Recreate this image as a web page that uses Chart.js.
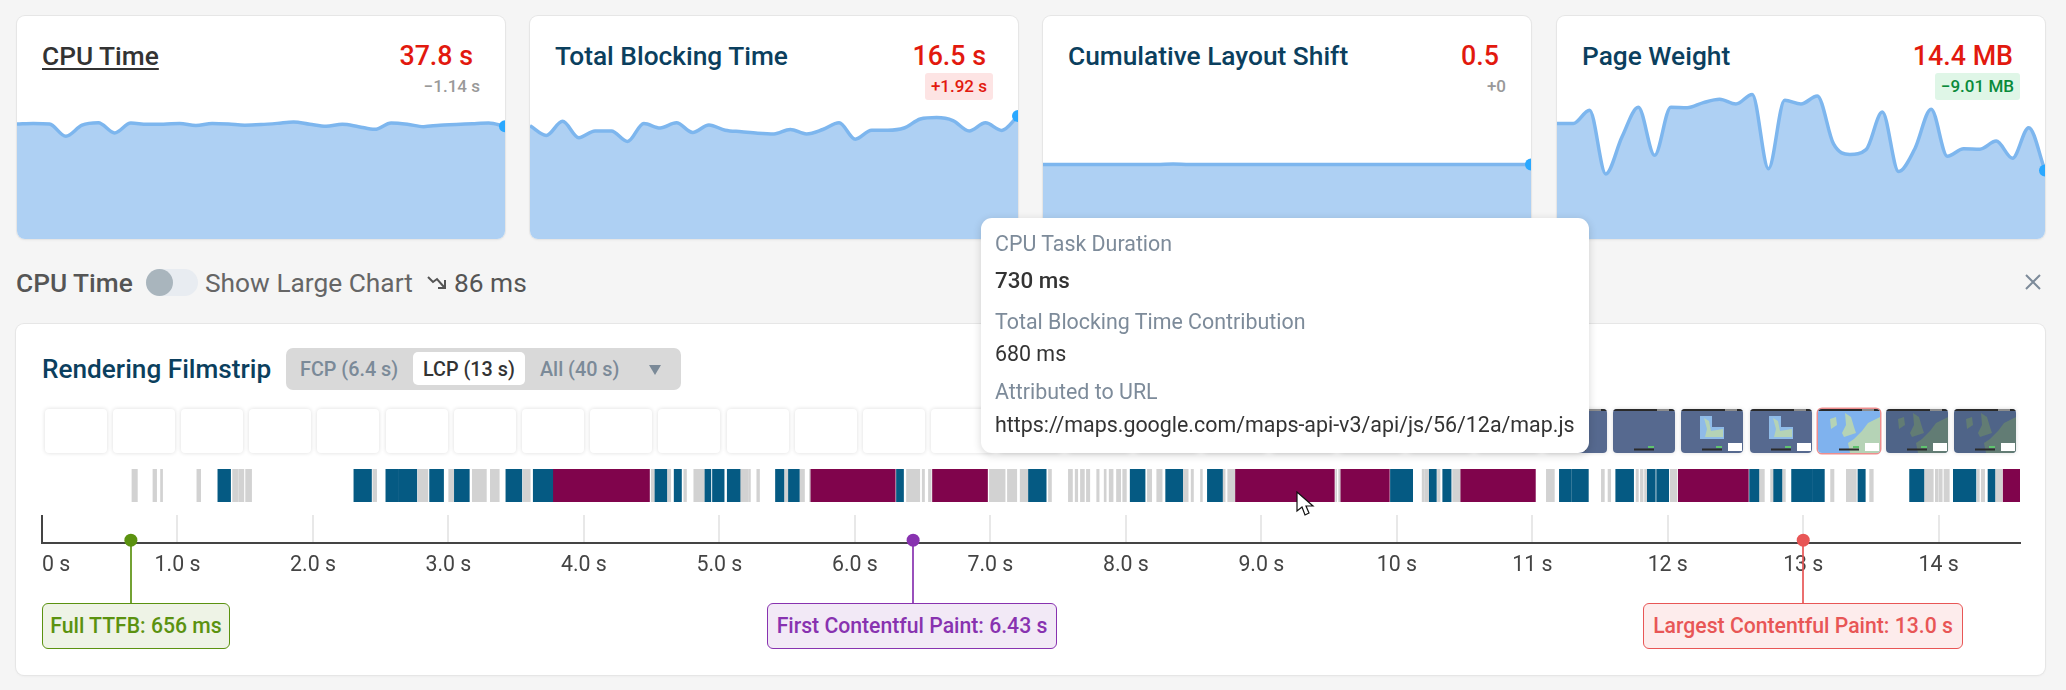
<!DOCTYPE html>
<html>
<head>
<meta charset="utf-8">
<title>Rendering Filmstrip</title>
<script src="https://cdn.jsdelivr.net/npm/chart.js@4/dist/chart.umd.min.js"></script>
<style>
  html, body { margin: 0; padding: 0; background: #f5f5f5; width: 2066px; height: 690px; overflow: hidden; font-family: Roboto, sans-serif; }
  .abs { position: absolute; white-space: nowrap; line-height: 1; }
  .card { position: absolute; top: 16px; width: 488px; height: 223px; background: #fff; border-radius: 8px; overflow: hidden; box-shadow: 0 0 0 1px #e6e6e6, 0 1px 3px rgba(0,0,0,.06); }
  .card canvas { position: absolute; left: 0; bottom: 0; }
  .card .title { position: absolute; left: 25px; top: 28px; font-size: 26.3px; font-weight: 500; line-height: 24px; color: #0b3f5e; }
  .card .title.active { color: #333; text-decoration: underline; text-underline-offset: 3px; }
  .card .value { position: absolute; right: 32px; top: 28px; font-size: 26.8px; font-weight: 500; line-height: 24px; color: #e2190e; }
  .card .delta { position: absolute; right: 25px; top: 57px; height: 27px; line-height: 27px; font-size: 17px; font-weight: 500; color: #999; border-radius: 3px; }
  .delta.bad { background: #fde4e4; color: #e2190e; padding: 0 6px; }
  .delta.good { background: #dff6e7; color: #0a8a3a; padding: 0 6px; }
  .toolbar { font-size: 26.3px; color: #666; }
  .panel { position: absolute; left: 16px; top: 324px; width: 2029px; height: 351px; background: #fff; border-radius: 8px; box-shadow: 0 0 0 1px #e6e6e6, 0 1px 3px rgba(0,0,0,.06); }
  .thumb { position: absolute; top: 409px; width: 62px; height: 44px; border-radius: 4px; background: #fff; box-shadow: 0 0 4px rgba(0,0,0,.14); overflow: hidden; }
  .thumb svg { display: block; }
  .thumb.lcp { box-shadow: 0 0 0 1.5px #ee8d8d; }
  .tip { position: absolute; left: 981px; top: 218px; width: 608px; height: 235px; background: #fff; border-radius: 11px; box-shadow: 0 2px 8px rgba(0,0,0,.16); z-index: 5; }
  .tip div { position: absolute; left: 14px; white-space: nowrap; line-height: 1; }
  .tip .k { font-size: 21.4px; color: #7d8b9a; }
  .tip .v { font-size: 21.4px; color: #333; }
  .mark { position: absolute; top: 603px; height: 44px; line-height: 44px; text-align: center; font-size: 21.2px; font-weight: 500; border: 1px solid; border-radius: 6px; box-sizing: content-box; white-space: nowrap; }
</style>
</head>
<body>

<div class="card" style="left:17px">
  <div class="title active">CPU Time</div>
  <div class="value">37.8 s</div>
  <div class="delta">−1.14 s</div>
  <canvas id="spark-cpu" width="488" height="149"></canvas>
</div>
<div class="card" style="left:530px">
  <div class="title">Total Blocking Time</div>
  <div class="value">16.5 s</div>
  <div class="delta bad">+1.92 s</div>
  <canvas id="spark-tbt" width="488" height="149"></canvas>
</div>
<div class="card" style="left:1043px">
  <div class="title">Cumulative Layout Shift</div>
  <div class="value">0.5</div>
  <div class="delta">+0</div>
  <canvas id="spark-cls" width="488" height="149"></canvas>
</div>
<div class="card" style="left:1557px">
  <div class="title">Page Weight</div>
  <div class="value">14.4 MB</div>
  <div class="delta good">−9.01 MB</div>
  <canvas id="spark-weight" width="488" height="149"></canvas>
</div>

<div class="abs toolbar" style="left:16px;top:270px;font-weight:500;color:#555">CPU Time</div>
<div class="abs" style="left:146px;top:269px;width:52px;height:27px;border-radius:14px;background:#e8ecf1"></div>
<div class="abs" style="left:146px;top:269px;width:27px;height:27px;border-radius:50%;background:#a9b5bd"></div>
<div class="abs toolbar" style="left:205px;top:270px">Show Large Chart</div>
<svg class="abs" style="left:427px;top:273px" width="22" height="18" viewBox="0 0 22 18" fill="none" stroke="#555" stroke-width="2">
  <path d="M1 4 L6 9 L10 6 L17 14"/><path d="M18 7 V15 H11"/>
</svg>
<div class="abs toolbar" style="left:454px;top:270px;color:#555">86 ms</div>
<svg class="abs" style="left:2024px;top:273px" width="18" height="18" viewBox="0 0 18 18" stroke="#7d8b9a" stroke-width="2">
  <path d="M2 2 L16 16 M16 2 L2 16"/>
</svg>

<div class="panel"></div>
<div class="abs" style="left:42px;top:356px;font-size:26.2px;font-weight:500;color:#0b3f5e">Rendering Filmstrip</div>
<div class="abs" style="left:286px;top:348px;width:395px;height:42px;border-radius:7px;background:#d9d9d9"></div>
<div class="abs" style="left:413px;top:352px;width:112px;height:33px;border-radius:5px;background:#fff"></div>
<div class="abs" style="left:300px;top:360px;font-size:19.8px;font-weight:500;color:#7b8a98">FCP (6.4 s)</div>
<div class="abs" style="left:423px;top:360px;font-size:19.8px;font-weight:500;color:#333">LCP (13 s)</div>
<div class="abs" style="left:540px;top:360px;font-size:19.8px;font-weight:500;color:#7b8a98">All (40 s)</div>
<div class="abs" style="left:649px;top:365px;width:0;height:0;border-left:6px solid transparent;border-right:6px solid transparent;border-top:10px solid #7b8a98"></div>

<div id="thumbs"></div>

<canvas id="tasks-chart" class="abs" style="left:0;top:469px" width="2066" height="33"></canvas>
<canvas id="axis-chart" class="abs" style="left:0;top:515px" width="2066" height="88"></canvas>

<div class="mark" style="left:42px;width:186px;color:#5b9210;border-color:#5b9210;background:#eef3e6">Full TTFB: 656 ms</div>
<div class="mark" style="left:767px;width:288px;color:#8832b0;border-color:#8832b0;background:#f2e9f6">First Contentful Paint: 6.43 s</div>
<div class="mark" style="left:1643px;width:318px;color:#e85656;border-color:#e85656;background:#fdecec">Largest Contentful Paint: 13.0 s</div>

<div class="tip">
  <div class="k" style="top:15px">CPU Task Duration</div>
  <div class="v" style="top:51px;font-size:22.4px;font-weight:500">730 ms</div>
  <div class="k" style="top:93px">Total Blocking Time Contribution</div>
  <div class="v" style="top:125px">680 ms</div>
  <div class="k" style="top:163px">Attributed to URL</div>
  <div class="v" style="top:196px">https://maps.google.com/maps-api-v3/api/js/56/12a/map.js</div>
</div>

<svg class="abs" style="left:1296px;top:491px;z-index:6" width="20" height="26" viewBox="0 0 20 26">
  <path d="M1 1 V20 L6 16 L9 24 L13 22 L10 15 L17 15 Z" fill="#fff" stroke="#111" stroke-width="1.2"/>
</svg>

<script>
// sparkline values
const cpuTime = [38.6, 38.8, 38.6, 34.5, 38.2, 39.0, 35.6, 38.9, 38.5, 38.5, 38.8, 38.1, 38.8, 38.6, 38.2, 38.4, 38.8, 39.3, 38.5, 37.8, 38.5, 37.7, 36.8, 38.9, 38.5, 37.7, 38.2, 38.4, 38.7, 38.94, 37.8];
const blockingTime = [15.2, 13.9, 15.8, 13.6, 14.5, 14.5, 13.1, 15.5, 14.9, 15.6, 14.3, 15.3, 14.6, 14.4, 14.2, 14.1, 14.7, 14.1, 14.7, 15.6, 13.4, 14.6, 14.6, 14.9, 16.1, 16.3, 15.9, 14.5, 15.6, 14.58, 16.5];
const layoutShift = [0.5, 0.5, 0.5, 0.5, 0.5, 0.5, 0.5, 0.5, 0.504, 0.5, 0.5, 0.5, 0.5, 0.5, 0.5, 0.5, 0.5, 0.5, 0.5, 0.5, 0.5, 0.5, 0.5, 0.5, 0.5, 0.5, 0.5, 0.5, 0.5, 0.5, 0.5];
const pageWeight = [24.3, 24.3, 27.1, 13.7, 21.5, 27.7, 17.6, 27.7, 27.6, 28.7, 29.4, 28.4, 30.4, 14.8, 29.2, 28.4, 30.1, 20.0, 17.8, 18.8, 26.7, 14.2, 19.0, 27.3, 17.4, 19.0, 18.9, 20.6, 17.0, 23.41, 14.4];

// CPU tasks as [start, end] in seconds
const otherTasks = [[0.664, 0.704], [0.819, 0.846], [0.875, 0.890], [1.143, 1.171], [1.407, 1.444], [1.451, 1.490], [1.503, 1.547], [2.442, 2.470], [2.775, 2.848], [3.002, 3.039], [3.176, 3.280], [3.309, 3.375], [3.550, 3.604], [4.497, 4.519], [4.617, 4.641], [4.737, 4.757], [4.811, 4.888], [5.158, 5.210], [5.215, 5.229], [5.276, 5.296], [5.483, 5.505], [5.596, 5.628], [5.665, 5.670], [6.381, 6.479], [6.497, 6.514], [6.543, 6.563], [6.993, 7.109], [7.126, 7.195], [7.220, 7.276], [7.429, 7.451], [7.576, 7.606], [7.626, 7.645], [7.665, 7.694], [7.709, 7.734], [7.785, 7.803], [7.840, 7.855], [7.877, 7.906], [7.931, 7.962], [7.977, 8.004], [8.159, 8.191], [8.228, 8.268], [8.425, 8.460], [8.482, 8.499], [8.551, 8.565], [8.718, 8.733], [8.752, 8.804], [9.549, 9.556], [9.571, 9.582], [10.187, 10.204], [10.209, 10.235], [10.300, 10.319], [10.412, 10.467], [11.104, 11.163], [11.510, 11.532], [11.559, 11.579], [11.766, 11.783], [11.798, 11.818], [11.829, 11.844], [12.019, 12.068], [12.678, 12.713], [12.759, 12.777], [12.848, 12.868], [13.202, 13.227], [13.318, 13.392], [13.490, 13.517], [13.896, 13.960], [13.975, 13.997], [14.004, 14.026], [14.039, 14.078], [14.285, 14.300], [14.314, 14.339], [14.420, 14.467]];
const longTasks = [[1.298, 1.392], [2.302, 2.432], [2.538, 2.632], [2.634, 2.767], [2.861, 2.964], [3.043, 3.154], [3.424, 3.542], [3.626, 3.770], [4.521, 4.615], [4.666, 4.720], [4.890, 4.937], [4.949, 5.035], [5.058, 5.156], [5.414, 5.478], [5.508, 5.591], [6.307, 6.359], [7.281, 7.412], [8.032, 8.142], [8.294, 8.420], [8.602, 8.715], [9.953, 10.117], [10.238, 10.292], [10.339, 10.401], [11.200, 11.289], [11.294, 11.414], [11.616, 11.748], [11.849, 11.908], [11.918, 12.007], [12.604, 12.676], [12.779, 12.846], [12.914, 13.069], [13.072, 13.156], [13.404, 13.458], [13.785, 13.894], [14.108, 14.275], [14.364, 14.418]];
const blockingTasks = [[3.770, 4.484], [5.672, 6.298], [6.573, 6.979], [8.809, 9.539], [9.584, 9.945], [10.470, 11.023], [12.078, 12.595], [14.475, 14.602]];

const timeTickLabels = ['0 s', '1.0 s', '2.0 s', '3.0 s', '4.0 s', '5.0 s', '6.0 s', '7.0 s', '8.0 s', '9.0 s', '10 s', '11 s', '12 s', '13 s', '14 s'];
const milestoneTimes = [0.656, 6.43, 13.0];
const milestoneColors = ['#5b9210', '#8832b0', '#e85656'];

const timeMax = 14.6;
const thumbCount = 29;

function createSparkline(id, values, maxValue) {
  new Chart(document.getElementById(id), {
    type: 'line',
    data: {
      labels: values.map((_, i) => i),
      datasets: [{
        data: values,
        borderColor: '#7db6ee',
        backgroundColor: '#aed0f3',
        borderWidth: 3.5,
        fill: 'origin',
        cubicInterpolationMode: 'monotone',
        pointRadius: values.map((_, i) => i === values.length - 1 ? 6 : 0),
        pointBorderWidth: 0,
        pointBackgroundColor: '#2aa8ff',
        clip: false
      }]
    },
    options: {
      responsive: false,
      animation: false,
      layout: { autoPadding: false },
      plugins: { legend: { display: false }, tooltip: { enabled: false } },
      scales: {
        x: { display: false },
        y: { display: false, min: 0, max: maxValue }
      }
    }
  });
}

createSparkline('spark-cpu', cpuTime, 50);
createSparkline('spark-tbt', blockingTime, 20);
createSparkline('spark-cls', layoutShift, 1);
createSparkline('spark-weight', pageWeight, 31.35);

function taskDataset(tasks, color) {
  return {
    data: tasks.map(t => ({ x: t, y: 'tasks' })),
    backgroundColor: color,
    grouped: false,
    barPercentage: 1,
    categoryPercentage: 1
  };
}

const timelinePadding = { left: 42, right: 46, top: 0, bottom: 0 };

new Chart(document.getElementById('tasks-chart'), {
  type: 'bar',
  data: {
    labels: ['tasks'],
    datasets: [
      taskDataset(otherTasks, '#d2d2d2'),
      taskDataset(longTasks, '#055a83'),
      taskDataset(blockingTasks, '#80044c')
    ]
  },
  options: {
    indexAxis: 'y',
    responsive: false,
    animation: false,
    layout: { padding: timelinePadding },
    plugins: { legend: { display: false }, tooltip: { enabled: false } },
    scales: {
      x: { type: 'linear', display: false, min: 0, max: timeMax },
      y: { display: false }
    }
  }
});

// stem from each milestone down to its label box
const milestoneStems = {
  id: 'milestoneStems',
  afterDatasetsDraw(chart) {
    const { ctx, scales, height } = chart;
    ctx.save();
    ctx.lineWidth = 1.7;
    milestoneTimes.forEach((t, i) => {
      const x = Math.round(scales.x.getPixelForValue(t));
      ctx.strokeStyle = milestoneColors[i];
      ctx.beginPath();
      ctx.moveTo(x, scales.y.getPixelForValue(0.1));
      ctx.lineTo(x, height);
      ctx.stroke();
    });
    ctx.restore();
  }
};

new Chart(document.getElementById('axis-chart'), {
  type: 'scatter',
  data: {
    datasets: [{
      data: milestoneTimes.map(t => ({ x: t, y: 0.1 })),
      pointRadius: 6.5,
      pointBorderWidth: 0,
      pointBackgroundColor: milestoneColors,
      clip: false
    }]
  },
  plugins: [milestoneStems],
  options: {
    responsive: false,
    animation: false,
    layout: { padding: timelinePadding, autoPadding: false },
    plugins: { legend: { display: false }, tooltip: { enabled: false } },
    scales: {
      x: {
        type: 'linear',
        min: 0,
        max: timeMax,
        afterFit(scale) { scale.height = 60; },
        border: { color: '#444', width: 2 },
        grid: {
          drawTicks: false,
          lineWidth: 2,
          color: ctx => ctx.index === 0 ? '#444' : (ctx.tick && ctx.tick.value > 14 ? 'transparent' : '#e8e8e8')
        },
        ticks: {
          stepSize: 1,
          autoSkip: false,
          maxRotation: 0,
          align: 'inner',
          padding: 10,
          color: '#444',
          font: { family: 'Roboto', size: 21.3 },
          callback: (value, i) => timeTickLabels[i] || ''
        }
      },
      y: { display: false, min: 0, max: 1 }
    }
  }
});

// filmstrip frames, the last ones show the map loading in
function mapFrame(background, land, patch, scaleBox) {
  const coast = land
    ? `<path d="M62 8 L50 14 L44 22 L36 30 L30 34 L32 44 H62 Z M27 4 L33 8 L36 18 L38 24 L26 28 L24 24 L28 16 Z M12 10 L18 8 L19 16 L13 20 Z" fill="${land}"/>`
    : '';
  const inset = patch
    ? `<rect x="19" y="7" width="12" height="23" fill="#8fbbe8"/><rect x="31" y="18" width="12" height="12" fill="#8fbbe8"/><path d="M23 9 L28 12 L30 22 L42 20 L42 28 L24 28 L26 20 Z" fill="#b5d3b6"/>`
    : '';
  const box = scaleBox ? '<rect x="47" y="34" width="14" height="8" fill="#fff"/>' : '';
  return `<svg width="62" height="44" viewBox="0 0 62 44"><rect width="62" height="44" fill="${background}"/>${coast}${inset}<rect width="62" height="2" fill="#2a2a2a"/><rect x="44" y="0.5" width="12" height="1" fill="#eee"/><rect x="21" y="39.5" width="20" height="2" fill="#2b2b2b"/><rect x="35" y="37" width="6" height="2" fill="#5fc46f"/>${box}</svg>`;
}

const thumbs = document.getElementById('thumbs');
for (let i = 0; i < thumbCount; i++) {
  const thumb = document.createElement('div');
  thumb.className = 'thumb' + (i === 26 ? ' lcp' : '');
  thumb.style.left = (44.6 + 68.2 * i) + 'px';
  if (i >= 21 && i <= 23) thumb.innerHTML = mapFrame('#56698f');
  if (i === 24 || i === 25) thumb.innerHTML = mapFrame('#56698f', null, true, true);
  if (i === 26) thumb.innerHTML = mapFrame('#7fb2ee', '#b5d3b6', false, true);
  if (i >= 27) thumb.innerHTML = mapFrame('#4f6488', '#627c74', false, true);
  thumbs.appendChild(thumb);
}
</script>
</body>
</html>
